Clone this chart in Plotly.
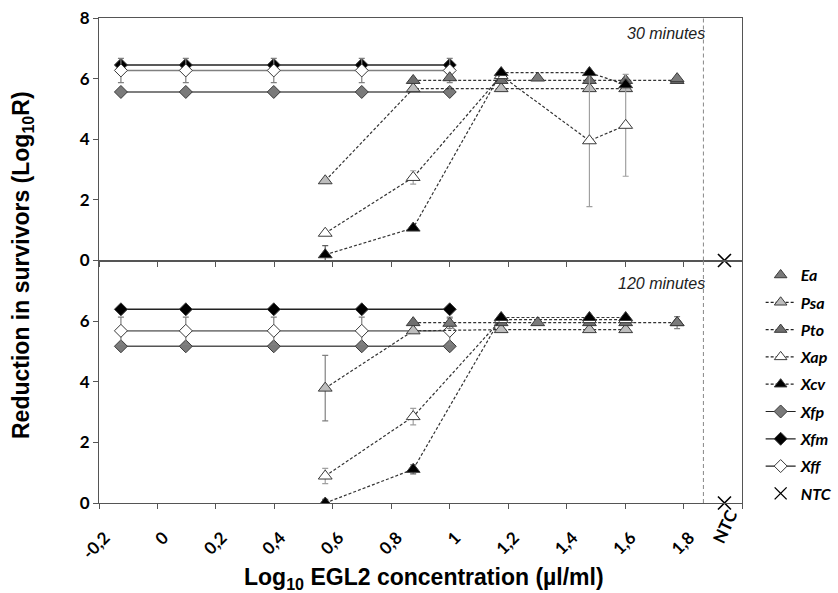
import plotly.graph_objects as go

# ---------------- data ----------------
X_XF = [-0.125, 0.097, 0.398, 0.699, 1.0]          # log10 conc, Xf strains
X_TRI = [0.574, 0.875, 1.176, 1.478, 1.602]        # Psa / Xap / Xcv
X_PTO = [0.875, 1.176, 1.478, 1.602, 1.778]
X_EA = [1.0, 1.301, 1.778]
X_NTC = [1.94]

# 30 minutes (top panel)
xfm_30 = [6.45, 6.45, 6.45, 6.45, 6.45]
xff_30 = [6.27, 6.27, 6.27, 6.27, 6.27]
xff_30_err = [0.4, 0.4, 0.4, 0.4, 0.4]
xfp_30 = [5.56, 5.56, 5.56, 5.56, 5.56]
psa_30 = [2.63, 5.67, 5.67, 5.67, 5.67]
pto_30 = [5.94, 5.94, 5.94, 5.94, 5.94]
ea_30 = [6.03, 6.02, 6.0]
xap_30 = [0.9, 2.74, 6.1, 3.95, 4.46]
xap_30_err = [0.05, 0.22, 0.0, 2.17, 1.68]
xcv_30 = [0.19, 1.07, 6.2, 6.2, 5.8]
xcv_30_err = [0.3, 0.0, 0.0, 0.0, 0.1]
ntc_30 = [0]

# 120 minutes (bottom panel)
xfm_120 = [6.39, 6.39, 6.39, 6.39, 6.39]
xff_120 = [5.68, 5.68, 5.68, 5.68, 5.68]
xff_120_err = [0.45, 0.45, 0.45, 0.45, 0.45]
xfp_120 = [5.17, 5.17, 5.17, 5.17, 5.17]
psa_120 = [3.79, 5.68, 5.72, 5.72, 5.72]
psa_120_err = [1.08, 0.0, 0.0, 0.0, 0.0]
pto_120 = [5.95, 5.95, 5.95, 5.95, 5.95]
pto_120_err = [0.0, 0.0, 0.0, 0.0, 0.2]
ea_120 = [5.93, 5.95, 5.95]
ea_120_err = [0.17, 0.0, 0.0]
xap_120 = [0.89, 2.85, 6.05, 6.05, 6.05]
xap_120_err = [0.25, 0.27, 0.0, 0.0, 0.0]
xcv_120 = [0.0, 1.11, 6.12, 6.12, 6.12]
xcv_120_err = [0.12, 0.15, 0.0, 0.0, 0.0]
ntc_120 = [0]

X_TICKS = [-0.2, 0, 0.2, 0.4, 0.6, 0.8, 1.0, 1.2, 1.4, 1.6, 1.8, 2.0]
X_TICKTEXT = ["-0,2", "0", "0,2", "0,4", "0,6", "0,8", "1", "1,2", "1,4", "1,6", "1,8", " "]

# ---------------- styles ----------------
EDGE = "#3a3a3a"
DASH = "3px,2px"
styles = {
    "Ea":  dict(mode="markers", sym="triangle-up", fill="#7a7a7a", lc=None, dash=None),
    "Psa": dict(mode="lines+markers", sym="triangle-up", fill="#bdbdbd", lc="#333333", dash=DASH),
    "Pto": dict(mode="lines+markers", sym="triangle-up", fill="#6e6e6e", lc="#333333", dash=DASH),
    "Xap": dict(mode="lines+markers", sym="triangle-up", fill="#ffffff", lc="#333333", dash=DASH),
    "Xcv": dict(mode="lines+markers", sym="triangle-up", fill="#000000", lc="#333333", dash=DASH),
    "Xfp": dict(mode="lines+markers", sym="diamond", fill="#7a7a7a", lc="#555555", dash="solid"),
    "Xfm": dict(mode="lines+markers", sym="diamond", fill="#000000", lc="#222222", dash="solid"),
    "Xff": dict(mode="lines+markers", sym="diamond", fill="#ffffff", lc="#808080", dash="solid"),
}

fig = go.Figure()


def add(name, x, y, err, xa, ya, errcolor="#808080"):
    s = styles[name]
    tri = s["sym"].startswith("triangle")
    kw = dict(
        x=x, y=y, name=name, mode=s["mode"], xaxis=xa, yaxis=ya,
        showlegend=False, legendgroup=name,
        marker=dict(symbol=s["sym"], size=12 if tri else 10, color=s["fill"],
                    line=dict(color=EDGE, width=1)),
    )
    if s["lc"]:
        kw["line"] = dict(color=s["lc"], width=1.2 if s["dash"] != "solid" else 1.6, dash=s["dash"])
    if err is not None:
        kw["error_y"] = dict(type="data", array=err, visible=True, color=errcolor,
                             thickness=1.2, width=3)
    fig.add_trace(go.Scatter(**kw))


for xa, ya, d in [
    ("x", "y", dict(xfp=xfp_30, xfm=xfm_30, xff=xff_30, xff_e=xff_30_err,
                    psa=psa_30, psa_e=None, pto=pto_30, pto_e=None, ea=ea_30, ea_e=None,
                    xap=xap_30, xap_e=xap_30_err, xcv=xcv_30, xcv_e=xcv_30_err, ntc=ntc_30)),
    ("x2", "y2", dict(xfp=xfp_120, xfm=xfm_120, xff=xff_120, xff_e=xff_120_err,
                      psa=psa_120, psa_e=psa_120_err, pto=pto_120, pto_e=pto_120_err,
                      ea=ea_120, ea_e=ea_120_err,
                      xap=xap_120, xap_e=xap_120_err, xcv=xcv_120, xcv_e=xcv_120_err,
                      ntc=ntc_120)),
]:
    add("Xfp", X_XF, d["xfp"], None, xa, ya)
    add("Xfm", X_XF, d["xfm"], None, xa, ya)
    add("Xff", X_XF, d["xff"], d["xff_e"], xa, ya)
    add("Psa", X_TRI, d["psa"], d["psa_e"], xa, ya)
    add("Pto", X_PTO, d["pto"], d["pto_e"], xa, ya)
    add("Xap", X_TRI, d["xap"], d["xap_e"], xa, ya, errcolor="#a0a0a0")
    add("Ea", X_EA, d["ea"], d["ea_e"], xa, ya)
    add("Xcv", X_TRI, d["xcv"], d["xcv_e"], xa, ya, errcolor="#606060")
    fig.add_trace(go.Scatter(x=X_NTC, y=d["ntc"], mode="markers", name="NTC", xaxis=xa, yaxis=ya,
                             showlegend=False, cliponaxis=False,
                             marker=dict(symbol="x-thin", size=13,
                                         line=dict(color="#000000", width=1.6))))

# legend-only traces in the reference order
for name in ["Ea", "Psa", "Pto", "Xap", "Xcv", "Xfp", "Xfm", "Xff"]:
    s = styles[name]
    tri = s["sym"].startswith("triangle")
    kw = dict(x=[None], y=[None], name=name, mode=s["mode"], legendgroup="L" + name,
              marker=dict(symbol=s["sym"], size=11 if tri else 10, color=s["fill"],
                          line=dict(color=EDGE, width=1)))
    if s["lc"]:
        kw["line"] = dict(color="#222222", width=1.2, dash=s["dash"])
    fig.add_trace(go.Scatter(**kw))
fig.add_trace(go.Scatter(x=[None], y=[None], name="NTC", mode="markers", legendgroup="LNTC",
                         marker=dict(symbol="x-thin", size=12, line=dict(color="#000000", width=1.4))))

TICKFONT = dict(family="Lato", size=17, color="#000000", weight="bold")
axis_common = dict(showline=True, linecolor="#555555", linewidth=1.2, mirror=True,
                   showgrid=False, zeroline=False, ticks="outside", ticklen=5,
                   tickcolor="#555555", tickwidth=1.2)

fig.update_layout(
    width=838, height=593,
    margin=dict(l=99, r=96, t=18, b=90, autoexpand=False),
    plot_bgcolor="#ffffff", paper_bgcolor="#ffffff",
    xaxis=dict(domain=[0, 1], anchor="y", range=[-0.2, 2.0], tickvals=X_TICKS,
               showticklabels=False, **axis_common),
    xaxis2=dict(domain=[0, 1], anchor="y2", range=[-0.2, 2.0], tickvals=X_TICKS,
                ticktext=X_TICKTEXT, tickangle=-45, tickfont=TICKFONT,
                ticklabelstandoff=12, ticklabelshift=6, **axis_common),
    yaxis=dict(domain=[0.5, 1], anchor="x", range=[0, 8], tickvals=[0, 2, 4, 6, 8],
               tickfont=TICKFONT, **axis_common),
    yaxis2=dict(domain=[0, 0.5], anchor="x2", range=[0, 8], tickvals=[0, 2, 4, 6],
                tickfont=TICKFONT, **axis_common),
    legend=dict(x=1.029, xanchor="left", y=0.505, yanchor="top", tracegroupgap=3.5,
                font=dict(family="Lato", size=16, color="#000000", weight="bold", style="italic"),
                itemwidth=30, bgcolor="rgba(0,0,0,0)"),
    showlegend=True,
)

for yr in ["y domain", "y2 domain"]:
    xr = "x" if yr.startswith("y ") else "x2"
    fig.add_shape(type="line", xref=xr, yref=yr, x0=1.868, x1=1.868, y0=0, y1=1,
                  line=dict(color="#888888", width=1, dash="4px,3px"))

fig.add_annotation(text="<i>30 minutes</i>", xref="paper", yref="paper", x=(707 - 99) / 643,
                   y=(503 - 33) / 485, xanchor="right", yanchor="middle", showarrow=False,
                   font=dict(family="Liberation Sans", size=16, color="#222222"))
fig.add_annotation(text="<i>120 minutes</i>", xref="paper", yref="paper", x=(707 - 99) / 643,
                   y=(503 - 283) / 485, xanchor="right", yanchor="middle", showarrow=False,
                   font=dict(family="Liberation Sans", size=16, color="#222222"))
fig.add_annotation(text="NTC", xref="x2", yref="paper", x=1.94, y=(503 - 526) / 485,
                   xanchor="center", yanchor="middle", textangle=-65, showarrow=False,
                   font=TICKFONT)
fig.add_annotation(text="<b>Reduction in survivors (Log<sub>10</sub>R)</b>", xref="paper",
                   yref="paper", x=(22 - 99) / 643, y=(503 - 265) / 485, xanchor="center",
                   yanchor="middle", textangle=-90, showarrow=False,
                   font=dict(family="Liberation Sans", size=23, color="#000000"))
fig.add_annotation(text="<b>Log<sub>10</sub> EGL2 concentration (µl/ml)</b>", xref="paper",
                   yref="paper", x=(424 - 99) / 643, y=(503 - 578) / 485, xanchor="center",
                   yanchor="middle", showarrow=False,
                   font=dict(family="Liberation Sans", size=23, color="#000000"))

fig.write_html("out.html")
